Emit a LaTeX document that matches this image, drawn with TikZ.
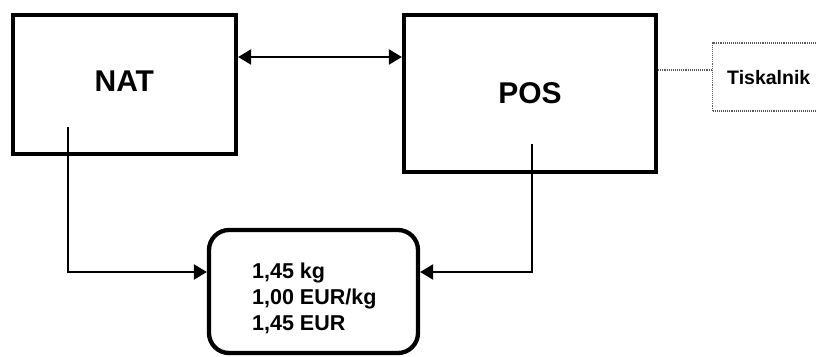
\documentclass[tikz,border=0pt]{standalone}
\usepackage{fontspec}
\setmainfont{Liberation Sans}
\usetikzlibrary{arrows.meta}
\begin{document}
\begin{tikzpicture}[x=1pt,y=-1pt,
  mainbox/.style={draw=black, line width=4.3pt, rectangle, inner sep=0pt, font=\fontsize{30}{36}\selectfont\bfseries},
  readbox/.style={draw=black, line width=4.3pt, rectangle, rounded corners=20pt, inner sep=0pt},
  printerbox/.style={draw=black!65, densely dotted, line width=1.1pt, rectangle, inner sep=0pt},
  conn/.style={draw=black, line width=2.3pt},
  tip/.style={-{Triangle[length=13pt,width=15pt]}},
  dottedconn/.style={draw=black!65, densely dotted, line width=1.1pt}
]
\useasboundingbox (0,0) rectangle (816,356);
\clip (0,0) rectangle (816,356);

\node[mainbox, minimum width=223.3pt, minimum height=139.3pt, text depth=6pt] (nat) at (124.35,84.35) {NAT};
\node[mainbox, minimum width=252pt, minimum height=157.3pt] (pos) at (530,93.35) {POS};
\node[printerbox, minimum width=170pt, minimum height=68pt, anchor=west] (tisk) at (712,77) {};
\node[anchor=west, inner sep=0pt, font=\fontsize{19.5}{23}\selectfont\bfseries] (tisktext) at (727,78) {Tiskalnik};
\node[readbox, minimum width=209pt, minimum height=123pt] (read) at (313.5,291.5) {};
\node[anchor=west, inner sep=0pt, align=left, font=\fontsize{21.5}{26}\selectfont\bfseries] (readtext) at (252,298) {1,45 kg\\1,00 EUR/kg\\1,45 EUR};

\coordinate (arrowy) at (0,57);
\coordinate (rowy) at (0,272);
\coordinate (nattap) at (68,127);
\coordinate (postap) at (532,144);
\coordinate (dotty) at (0,70);

\draw[conn, {Triangle[length=13pt,width=15pt]}-{Triangle[length=13pt,width=15pt]}] (nat.east |- arrowy) -- (pos.west |- arrowy);
\draw[conn, tip] (nattap) |- (read.west |- rowy);
\draw[conn, tip] (postap) |- (read.east |- rowy);
\draw[dottedconn] (pos.east |- dotty) -- (tisk.west |- dotty);
\end{tikzpicture}
\end{document}
